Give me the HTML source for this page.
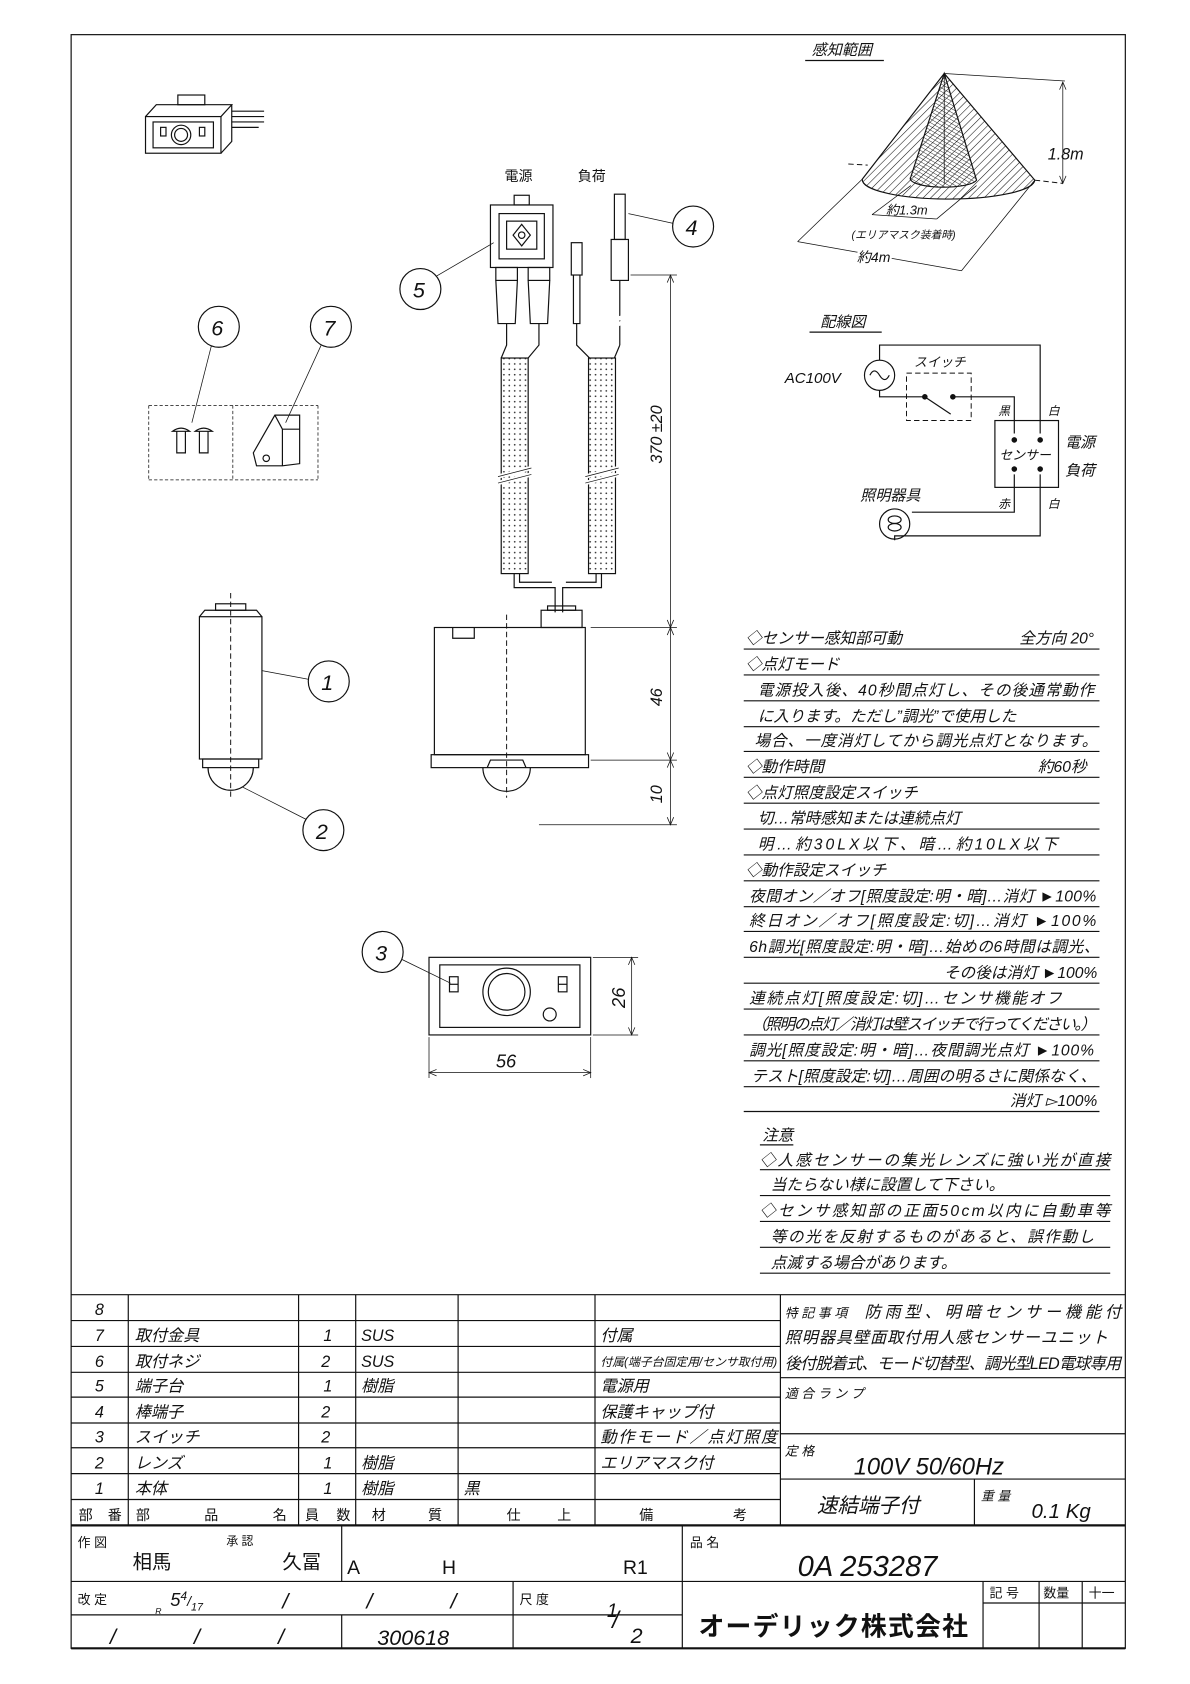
<!DOCTYPE html>
<html><head><meta charset="utf-8"><style>
html,body{margin:0;padding:0;background:#fff;}
svg{display:block;}
text{font-family:"Liberation Sans","Noto Sans CJK JP",sans-serif;fill:#111;}
.i{font-style:italic;}
.s{stroke:#111;fill:none;stroke-width:1.1;}
.t{stroke:#111;fill:none;stroke-width:0.7;}
.b{stroke:#111;fill:none;stroke-width:2;}
.d{stroke:#111;fill:none;stroke-width:0.9;stroke-dasharray:5 3;}
</style></head><body>
<svg width="1190" height="1684" viewBox="0 0 1104 1562" xmlns="http://www.w3.org/2000/svg">
<defs>
<pattern id="h1" width="5" height="5" patternUnits="userSpaceOnUse" patternTransform="rotate(45)"><line x1="0" y1="0" x2="0" y2="5" stroke="#111" stroke-width="1"/></pattern>
<pattern id="h2" width="3" height="3" patternUnits="userSpaceOnUse" patternTransform="rotate(-60)"><line x1="0" y1="0" x2="0" y2="3" stroke="#111" stroke-width="0.8"/></pattern>
<pattern id="cab" width="5" height="5" patternUnits="userSpaceOnUse"><circle cx="2.5" cy="2.5" r="0.8" fill="#333"/></pattern>
</defs>
<!-- frame -->
<rect x="66" y="32" width="978" height="1497" class="s" stroke-width="1.4"/>

<!-- small 3D switch -->
<g class="s">
<rect x="135" y="108" width="70" height="34"/>
<path d="M135 108 L145 97 L215 97 L205 108 M205 142 L215 131 L215 97"/>
<rect x="142" y="113" width="56" height="24"/>
<circle cx="168" cy="125" r="9"/><circle cx="168" cy="125" r="6"/>
<rect x="149" y="118" width="5" height="8"/><rect x="185" y="118" width="5" height="8"/>
<rect x="165" y="88" width="25" height="9"/>
<path d="M215 103 L245 103 M215 108 L245 108 M215 113 L245 113 M215 118 L240 118"/>
</g>

<!-- sensing range -->
<text x="753" y="51" font-size="14" class="i">感知範囲</text>
<line x1="747" y1="56" x2="820" y2="56" class="s"/>
<path d="M876 68 L800 166 A80 18 0 0 0 960 167 Z" style="fill:url(#h1);stroke:#111;stroke-width:1.1"/>
<path d="M876 68 L845 164 A31 8 0 0 0 906 167 Z" style="fill:url(#h2);stroke:#111;stroke-width:1.1"/>
<line x1="876" y1="68" x2="876" y2="170" class="t"/>
<line x1="787" y1="152" x2="805" y2="153" class="d"/>
<line x1="960" y1="167" x2="986" y2="170" class="d"/>
<line x1="876" y1="68" x2="988" y2="75" class="t"/>
<line x1="986" y1="76" x2="986" y2="170" class="t"/>
<path d="M983 83 L986 76 L989 83 M983 163 L986 170 L989 163" class="t"/>
<text x="972" y="148" font-size="15" class="i">1.8m</text>
<line x1="800" y1="166" x2="740" y2="224" class="t"/>
<line x1="960" y1="167" x2="892" y2="251" class="t"/>
<line x1="740" y1="224" x2="892" y2="251" class="t"/>
<text x="795" y="243" font-size="13" class="i" fill="#111" style="paint-order:stroke" stroke="#fff" stroke-width="4">約4m</text>
<line x1="845" y1="172" x2="809" y2="199" class="t"/>
<line x1="906" y1="172" x2="869" y2="203" class="t"/>
<line x1="809" y1="199" x2="869" y2="203" class="t"/>
<text x="822" y="199" font-size="12" class="i">約1.3m</text>
<text x="790" y="221" font-size="10" class="i">(エリアマスク装着時)</text>

<!-- wiring diagram -->
<text x="761" y="303" font-size="14" class="i">配線図</text>
<line x1="751" y1="308" x2="818" y2="308" class="s"/>
<g class="s">
<path d="M816 334 L816 320 L965 320 L965 402"/>
<circle cx="816" cy="348" r="14"/>
<path d="M807 348 Q811 340 816 348 Q821 356 825 348"/>
<path d="M816 362 L816 368 L858 368 M884 368 L941 368 L941 402"/>
<line x1="858" y1="368" x2="882" y2="384"/>
<rect x="923" y="390" width="59" height="62"/>
<path d="M941 440 L941 475 L846 475 M965 440 L965 497 L830 497 L830 501"/>
<circle cx="830" cy="486" r="14"/>
<ellipse cx="830" cy="482" rx="6" ry="3.5"/><ellipse cx="830" cy="489" rx="6" ry="3.5"/>
</g>
<rect x="841" y="346" width="60" height="44" class="d"/>
<circle cx="858" cy="368" r="2.6" fill="#111"/><circle cx="884" cy="368" r="2.6" fill="#111"/>
<circle cx="941" cy="408" r="2.6" fill="#111"/><circle cx="965" cy="408" r="2.6" fill="#111"/>
<circle cx="941" cy="435" r="2.6" fill="#111"/><circle cx="965" cy="435" r="2.6" fill="#111"/>
<text x="728" y="355" font-size="14" class="i">AC100V</text>
<text x="848" y="340" font-size="12" class="i">スイッチ</text>
<text x="926" y="385" font-size="11" class="i">黒</text>
<text x="972" y="385" font-size="11" class="i">白</text>
<text x="926" y="471" font-size="11" class="i">赤</text>
<text x="972" y="471" font-size="11" class="i">白</text>
<text x="927" y="426" font-size="12" class="i">センサー</text>
<text x="988" y="415" font-size="14" class="i">電源</text>
<text x="988" y="441" font-size="14" class="i">負荷</text>
<text x="798" y="464" font-size="14" class="i">照明器具</text>

<!-- power/terminal assembly -->
<text x="468" y="168" font-size="13">電源</text>
<text x="536" y="168" font-size="13">負荷</text>
<g class="s">
<rect x="455" y="190" width="58" height="58"/>
<rect x="463" y="198" width="42" height="42"/>
<rect x="470" y="205" width="28" height="26"/>
<path d="M484 208 L492 218 L484 228 L476 218 Z"/>
<circle cx="484" cy="218" r="3"/>
<rect x="477" y="181" width="14" height="9"/>
<rect x="460" y="248" width="20" height="12"/><rect x="490" y="248" width="20" height="12"/>
<path d="M460 260 L462 300 L478 300 L480 260 M490 260 L492 300 L508 300 L510 260"/>
<path d="M470 300 L470 320 L465 332 M500 300 L500 320 L490 332"/>
<rect x="530" y="225" width="10" height="30"/><path d="M532 255 L532 300 L538 300 L538 255"/>
<rect x="570" y="180" width="10" height="42"/><rect x="567" y="222" width="16" height="38"/>
<line x1="575" y1="260" x2="575" y2="320"/>
<path d="M535 300 L535 320 L547 332 M575 320 L570 332"/>
<rect x="465" y="332" width="25" height="200" fill="url(#cab)"/>
<rect x="546" y="332" width="25" height="200" fill="url(#cab)"/>
<path d="M477 532 L477 545 L515 545 L515 568 M558 532 L558 545 L522 545 L522 568"/>
<path d="M482 532 L482 540 L512 540 M553 532 L553 540 L525 540"/>
</g>
<path d="M462 442 L493 434 M462 448 L493 440 M543 442 L574 434 M543 448 L574 440 M565 298 L585 292 M565 303 L585 297" stroke="#fff" stroke-width="4"/>
<path d="M462 442 L493 434 M462 448 L493 440 M543 442 L574 434 M543 448 L574 440" class="t"/>
<!-- leaders 5 and 4 -->
<circle cx="390" cy="268" r="19" class="s"/><text x="383" y="276" font-size="20" class="i">5</text>
<line x1="405" y1="256" x2="458" y2="225" class="t"/>
<circle cx="643" cy="210" r="19" class="s"/><text x="636" y="218" font-size="20" class="i">4</text>
<line x1="624" y1="207" x2="583" y2="198" class="t"/>

<!-- dimension column -->
<g class="t">
<line x1="585" y1="255" x2="628" y2="255"/>
<line x1="548" y1="582" x2="628" y2="582"/>
<line x1="548" y1="705" x2="628" y2="705"/>
<line x1="500" y1="765" x2="628" y2="765"/>
<line x1="622" y1="255" x2="622" y2="765"/>
<path d="M619 262 L622 255 L625 262 M619 575 L622 582 L625 575 M619 589 L622 582 L625 589 M619 698 L622 705 L625 698 M619 712 L622 705 L625 712 M619 758 L622 765 L625 758"/>
</g>
<text transform="translate(614,430) rotate(-90)" font-size="15" class="i">370 ±20</text>
<text transform="translate(614,655) rotate(-90)" font-size="15" class="i">46</text>
<text transform="translate(614,745) rotate(-90)" font-size="15" class="i">10</text>

<!-- body front -->
<g class="s">
<rect x="403" y="582" width="140" height="118"/>
<rect x="502" y="566" width="38" height="16"/>
<rect x="508" y="562" width="26" height="4"/>
<path d="M420 582 L420 592 L440 592 L440 582"/>
<rect x="400" y="700" width="146" height="12"/>
<path d="M448 712 A22 22 0 0 0 492 712"/>
<path d="M452 712 L455 705 L485 705 L488 712"/>
</g>
<line x1="470" y1="570" x2="470" y2="740" class="d"/>

<!-- part 1 cylinder -->
<g class="s">
<rect x="185" y="572" width="58" height="132"/>
<path d="M185 572 L190 566 L238 566 L243 572"/>
<rect x="200" y="560" width="28" height="6"/>
<rect x="188" y="704" width="52" height="8"/>
<path d="M193 712 A21 21 0 0 0 235 712"/>
</g>
<line x1="214" y1="550" x2="214" y2="740" class="d"/>
<circle cx="305" cy="632" r="19" class="s"/><text x="298" y="640" font-size="20" class="i">1</text>
<line x1="286" y1="630" x2="243" y2="622" class="t"/>
<circle cx="300" cy="770" r="19" class="s"/><text x="293" y="778" font-size="20" class="i">2</text>
<line x1="284" y1="760" x2="225" y2="730" class="t"/>

<!-- parts 6,7 -->
<circle cx="203" cy="303" r="19" class="s"/><text x="196" y="311" font-size="20" class="i">6</text>
<circle cx="307" cy="303" r="19" class="s"/><text x="300" y="311" font-size="20" class="i">7</text>
<line x1="196" y1="321" x2="178" y2="392" class="t"/>
<line x1="298" y1="320" x2="265" y2="392" class="t"/>
<g class="t">
<line x1="138" y1="376" x2="295" y2="376" stroke-dasharray="3 2"/>
<line x1="138" y1="445" x2="295" y2="445" stroke-dasharray="3 2"/>
<line x1="216" y1="376" x2="216" y2="445" stroke-dasharray="3 2"/>
<line x1="138" y1="376" x2="138" y2="445" stroke-dasharray="3 2"/>
<line x1="295" y1="376" x2="295" y2="445" stroke-dasharray="3 2"/>
</g>
<g class="s">
<path d="M160 400 Q168 394 176 400 Z M164 400 L164 420 L172 420 L172 400"/>
<path d="M181 400 Q189 394 197 400 Z M185 400 L185 420 L193 420 L193 400"/>
<path d="M235 420 L255 385 L278 385 L278 430 L262 432 L238 432 Z M255 385 L262 398 L262 432 M262 398 L278 398"/>
<circle cx="247" cy="425" r="3"/>
</g>

<!-- bottom view -->
<g class="s">
<rect x="398" y="888" width="150" height="72"/>
<rect x="408" y="895" width="130" height="58"/>
<circle cx="470" cy="920" r="22"/><circle cx="470" cy="920" r="17"/>
<circle cx="510" cy="941" r="6"/>
<rect x="417" y="906" width="8" height="14"/><line x1="417" y1="913" x2="425" y2="913"/>
<rect x="518" y="906" width="8" height="14"/><line x1="518" y1="913" x2="526" y2="913"/>
</g>
<circle cx="355" cy="883" r="19" class="s"/><text x="348" y="891" font-size="20" class="i">3</text>
<line x1="373" y1="890" x2="418" y2="912" class="t"/>
<g class="t">
<line x1="398" y1="962" x2="398" y2="1000"/><line x1="548" y1="962" x2="548" y2="1000"/>
<line x1="398" y1="995" x2="548" y2="995"/>
<path d="M405 992 L398 995 L405 998 M541 992 L548 995 L541 998"/>
<line x1="550" y1="888" x2="592" y2="888"/><line x1="550" y1="960" x2="592" y2="960"/>
<line x1="586" y1="888" x2="586" y2="960"/>
<path d="M583 895 L586 888 L589 895 M583 953 L586 960 L589 953"/>
</g>
<text x="460" y="990" font-size="17" class="i">56</text>
<text transform="translate(580,935) rotate(-90)" font-size="17" class="i">26</text>

<!-- spec text panel -->
<g font-size="14.5" class="i">
<text x="692" y="597">◇センサー感知部可動</text><text x="1015" y="597" text-anchor="end">全方向  20°</text>
<text x="692" y="621">◇点灯モード</text>
<text x="703" y="645" textLength="312">電源投入後、40秒間点灯し、その後通常動作</text>
<text x="703" y="669">に入ります。ただし”調光”で使用した</text>
<text x="700" y="692" textLength="318">場合、一度消灯してから調光点灯となります。</text>
<text x="692" y="716">◇動作時間</text><text x="1008" y="716" text-anchor="end">約60秒</text>
<text x="692" y="740">◇点灯照度設定スイッチ</text>
<text x="703" y="764">切…常時感知または連続点灯</text>
<text x="703" y="788" textLength="278">明…約30LX以下、暗…約10LX以下</text>
<text x="692" y="812">◇動作設定スイッチ</text>
<text x="695" y="836" textLength="322">夜間オン／オフ[照度設定:明・暗]…消灯 ►100%</text>
<text x="695" y="859" textLength="322">終日オン／オフ[照度設定:切]…消灯 ►100%</text>
<text x="695" y="883" textLength="325">6h調光[照度設定:明・暗]…始めの6時間は調光、</text>
<text x="1018" y="907" text-anchor="end">その後は消灯 ►100%</text>
<text x="695" y="931" textLength="290">連続点灯[照度設定:切]…センサ機能オフ</text>
<text x="697" y="955" textLength="320">（照明の点灯／消灯は壁スイッチで行ってください。）</text>
<text x="695" y="979" textLength="320">調光[照度設定:明・暗]…夜間調光点灯 ►100%</text>
<text x="697" y="1003" textLength="320">テスト[照度設定:切]…周囲の明るさに関係なく、</text>
<text x="1018" y="1026" text-anchor="end">消灯 ▻100%</text>
<text x="707" y="1058">注意</text>
<text x="705" y="1081" textLength="325">◇人感センサーの集光レンズに強い光が直接</text>
<text x="715" y="1104">当たらない様に設置して下さい。</text>
<text x="705" y="1128" textLength="325">◇センサ感知部の正面50cm以内に自動車等</text>
<text x="715" y="1152" textLength="300">等の光を反射するものがあると、誤作動し</text>
<text x="715" y="1176">点滅する場合があります。</text>
</g>
<g class="s" stroke-width="1.3">
<path d="M690 602 H1020 M690 626 H1020 M690 650 H1020 M690 674 H1020 M690 697 H1020 M690 721 H1020 M690 745 H1020 M690 769 H1020 M690 793 H1020 M690 817 H1020 M690 841 H1020 M690 864 H1020 M690 888 H1020 M690 912 H1020 M690 936 H1020 M690 960 H1020 M690 984 H1020 M690 1008 H1020 M690 1031 H1020"/>
<path d="M705 1062 H736 M705 1085 H1030 M705 1109 H1030 M705 1133 H1030 M705 1157 H1030 M705 1181 H1030"/>
</g>

<!-- title block -->
<g class="s" stroke-width="1.3">
<path d="M66 1201 H1044"/>
<path d="M66 1225 H724 M66 1249 H724 M66 1273 H724 M66 1296 H724 M66 1320 H724 M66 1343 H724 M66 1367 H724 M66 1391 H724"/>
<path d="M119 1201 V1415 M277 1201 V1415 M330 1201 V1415 M425 1201 V1415 M552 1201 V1415 M724 1201 V1415"/>
<path d="M724 1278 H1044 M724 1330 H1044 M724 1372 H1044 M904 1372 V1415"/>
<path d="M66 1467 H1044 M66 1498 H633"/>
<path d="M317 1415 V1467 M633 1415 V1529 M476 1467 V1529 M317 1498 V1529"/>
<path d="M912 1467 V1529 M964 1467 V1529 M1004 1467 V1529 M912 1487 H1044"/>
</g>
<path d="M66 1415 H1044 M66 1529 H1044" class="b" stroke-width="2.4"/>
<g font-size="15" class="i">
<text x="88" y="1220">8</text><text x="88" y="1244">7</text><text x="88" y="1268">6</text><text x="88" y="1291">5</text><text x="88" y="1315">4</text><text x="88" y="1338">3</text><text x="88" y="1362">2</text><text x="88" y="1386">1</text>
<text x="125" y="1244">取付金具</text><text x="125" y="1268">取付ネジ</text><text x="125" y="1291">端子台</text><text x="125" y="1315">棒端子</text><text x="125" y="1338">スイッチ</text><text x="125" y="1362">レンズ</text><text x="125" y="1386">本体</text>
<text x="300" y="1244">1</text><text x="298" y="1268">2</text><text x="300" y="1291">1</text><text x="298" y="1315">2</text><text x="298" y="1338">2</text><text x="300" y="1362">1</text><text x="300" y="1386">1</text>
<text x="335" y="1244">SUS</text><text x="335" y="1268">SUS</text><text x="335" y="1291">樹脂</text><text x="335" y="1362">樹脂</text><text x="335" y="1386">樹脂</text>
<text x="430" y="1386">黒</text>
<text x="557" y="1244">付属</text>
<text x="557" y="1267" font-size="11" textLength="164">付属(端子台固定用/センサ取付用)</text>
<text x="557" y="1291">電源用</text><text x="557" y="1315">保護キャップ付</text>
<text x="557" y="1338" textLength="164">動作モード／点灯照度</text><text x="557" y="1362">エリアマスク付</text>
<text x="728" y="1222" font-size="12">特 記 事 項</text><text x="802" y="1222" textLength="238">防雨型、明暗センサー機能付</text>
<text x="728" y="1246" textLength="300">照明器具壁面取付用人感センサーユニット</text>
<text x="728" y="1270" textLength="312">後付脱着式、モード切替型、調光型LED電球専用</text>
<text x="728" y="1297" font-size="12">適 合 ラ ン プ</text>
<text x="728" y="1350" font-size="12">定 格</text>
<text x="792" y="1368" font-size="22">100V  50/60Hz</text>
<text x="758" y="1403" font-size="19">速結端子付</text>
<text x="910" y="1392" font-size="12">重 量</text>
<text x="957" y="1408" font-size="19">0.1 Kg</text>
</g>
<g font-size="13">
<text x="73" y="1410" textLength="40">部 番</text><text x="126" y="1410" textLength="140">部　品　名</text><text x="283" y="1410" textLength="42">員 数</text><text x="345" y="1410" textLength="65">材　質</text><text x="470" y="1410" textLength="60">仕　上</text><text x="593" y="1410" textLength="100">備　　考</text>
<text x="72" y="1435" font-size="12">作 図</text><text x="123" y="1455" font-size="18">相馬</text>
<text x="210" y="1433" font-size="11">承 認</text><text x="262" y="1455" font-size="18">久冨</text>
<text x="322" y="1460" font-size="18">A</text><text x="410" y="1460" font-size="18">H</text><text x="578" y="1460" font-size="18">R1</text>
<text x="640" y="1435" font-size="12">品 名</text>
<text x="740" y="1462" font-size="27" class="i">0A  253287</text>
<text x="72" y="1488" font-size="12">改 定</text>
<text x="158" y="1490" font-size="17" class="i">5<tspan font-size="11" dy="-6">4</tspan><tspan font-size="13" dy="6">/</tspan><tspan font-size="10" dy="4">17</tspan></text>
<text x="144" y="1497" font-size="8" class="i">R</text>
<text x="262" y="1492" font-size="20" class="i">/</text><text x="340" y="1492" font-size="20" class="i">/</text><text x="418" y="1492" font-size="20" class="i">/</text>
<text x="102" y="1525" font-size="20" class="i">/</text><text x="180" y="1525" font-size="20" class="i">/</text><text x="258" y="1525" font-size="20" class="i">/</text>
<text x="350" y="1526" font-size="20" class="i">300618</text>
<text x="482" y="1488" font-size="12">尺 度</text>
<text x="563" y="1500" font-size="18" class="i">1</text><text x="568" y="1510" font-size="22" class="i">/</text><text x="585" y="1524" font-size="20" class="i">2</text>
<text x="648" y="1517" font-size="24" font-weight="bold" textLength="250" style="font-family:'Noto Sans CJK JP',sans-serif">オーデリック株式会社</text>
<text x="918" y="1482" font-size="12">記 号</text><text x="968" y="1482" font-size="12">数量</text><text x="1010" y="1482" font-size="12">十一</text>
</g>
</svg>
</body></html>
